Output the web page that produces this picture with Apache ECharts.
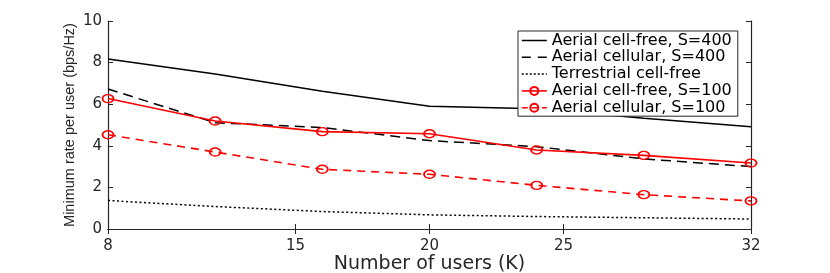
<!DOCTYPE html>
<html>
<head>
<meta charset="utf-8">
<script src="https://cdn.jsdelivr.net/npm/echarts@6/dist/echarts.min.js"></script>
<style>
html,body{margin:0;padding:0;background:#fff;}
#chart{width:830px;height:273px;}
</style>
</head>
<body>
<div id="chart"></div>
<script>
const users = [8, 12, 16, 20, 24, 28, 32];
const xTicks = [8, 15, 20, 25, 32];
const aerialCellFree400 = [8.17, 7.45, 6.62, 5.90, 5.78, 5.32, 4.92];
const aerialCellular400 = [6.73, 5.11, 4.88, 4.25, 3.96, 3.37, 3.00];
const terrestrialCellFree = [1.37, 1.08, 0.84, 0.68, 0.60, 0.54, 0.48];
const aerialCellFree100 = [6.27, 5.19, 4.68, 4.58, 3.80, 3.54, 3.17];
const aerialCellular100 = [4.53, 3.70, 2.87, 2.63, 2.10, 1.65, 1.35];
const seriesNames = ['Aerial cell-free, S=400','Aerial cellular, S=400','Terrestrial cell-free','Aerial cell-free, S=100','Aerial cellular, S=100'];

const WIDE = '"DejaVu Sans", Verdana, sans-serif';
const NARROW = '"Liberation Sans", Arial, Helvetica, sans-serif';
const AX = '#262626';
const TXT = '#262626';
function pairs(ys){ return users.map((x,i)=>[x, ys[i]]); }

const chart = echarts.init(document.getElementById('chart'), null, {renderer:'canvas'});
const axisCommon = {
  axisLine:{show:true, lineStyle:{color:AX, width:1.2}},
  splitLine:{show:false}
};
const redSym = {symbol:'circle', symbolSize:[11,8], itemStyle:{color:'rgba(255,255,255,0)', borderColor:'#ff0000', borderWidth:1.6}};
const hidden = {opacity:0, color:'rgba(0,0,0,0)', borderWidth:0};
chart.setOption({
  animation:false,
  backgroundColor:'#fff',
  grid:{left:108, right:79, top:21, bottom:44, containLabel:false, outerBoundsMode:'none'},
  legend:{
    orient:'vertical', left:518, top:31,
    data:[
      {name:seriesNames[0], itemStyle:hidden, lineStyle:{type:'solid', color:'#000', width:1.5}},
      {name:seriesNames[1], itemStyle:hidden, lineStyle:{type:[9,7], color:'#000', width:1.5}},
      {name:seriesNames[2], itemStyle:hidden, lineStyle:{type:[2,2], color:'#000', width:1.5}},
      {name:seriesNames[3], lineStyle:{type:'solid', color:'#ff0000', width:1.6}},
      {name:seriesNames[4], lineStyle:{type:[6,4], color:'#ff0000', width:1.6}}
    ],
    itemWidth:25, itemHeight:10, itemGap:0.8,
    padding:[1.5,6,0.5,3],
    borderColor:AX, borderWidth:1, backgroundColor:'#fff',
    textStyle:{fontFamily:WIDE, fontSize:16, color:'#000'},
    inactiveColor:'#000'
  },
  xAxis:[{
    type:'value', min:8, max:32, position:'bottom',
    name:'Number of users (K)', nameLocation:'middle', nameGap:26, nameMoveOverlap:false,
    nameTextStyle:{fontFamily:WIDE, fontSize:19, color:TXT},
    axisTick:{show:true, inside:true, length:5, customValues:xTicks, lineStyle:{color:AX}},
    axisLabel:{customValues:xTicks, fontFamily:WIDE, fontSize:15, color:TXT, margin:10},
    ...axisCommon
  },{
    type:'value', min:8, max:32, position:'top',
    axisTick:{show:true, inside:true, length:5, customValues:xTicks, lineStyle:{color:AX}},
    axisLabel:{show:false, customValues:xTicks},
    ...axisCommon
  }],
  yAxis:[{
    type:'value', min:0, max:10, interval:2, position:'left',
    name:'Minimum rate per user (bps/Hz)', nameLocation:'middle', nameGap:31, nameMoveOverlap:false,
    nameTextStyle:{fontFamily:NARROW, fontSize:14.5, color:TXT},
    axisTick:{show:true, inside:true, length:5, lineStyle:{color:AX}},
    axisLabel:{fontFamily:WIDE, fontSize:15, color:TXT, margin:6},
    ...axisCommon
  },{
    type:'value', min:0, max:10, interval:2, position:'right',
    axisTick:{show:true, inside:true, length:5, lineStyle:{color:AX}},
    axisLabel:{show:false},
    ...axisCommon
  }],
  series:[
    {name:seriesNames[0], type:'line', data:pairs(aerialCellFree400), showSymbol:false, symbol:'none',
     lineStyle:{color:'#000', width:1.5, type:'solid'}, itemStyle:{color:'#000'}},
    {name:seriesNames[1], type:'line', data:pairs(aerialCellular400), showSymbol:false, symbol:'none',
     lineStyle:{color:'#000', width:1.5, type:[10,6]}, itemStyle:{color:'#000'}},
    {name:seriesNames[2], type:'line', data:pairs(terrestrialCellFree), showSymbol:false, symbol:'none',
     lineStyle:{color:'#000', width:1.5, type:[2,2.5]}, itemStyle:{color:'#000'}},
    {name:seriesNames[3], type:'line', data:pairs(aerialCellFree100), ...redSym,
     lineStyle:{color:'#ff0000', width:1.6, type:'solid'}},
    {name:seriesNames[4], type:'line', data:pairs(aerialCellular100), ...redSym,
     lineStyle:{color:'#ff0000', width:1.6, type:[8,6]}}
  ]
});
</script>
</body>
</html>
